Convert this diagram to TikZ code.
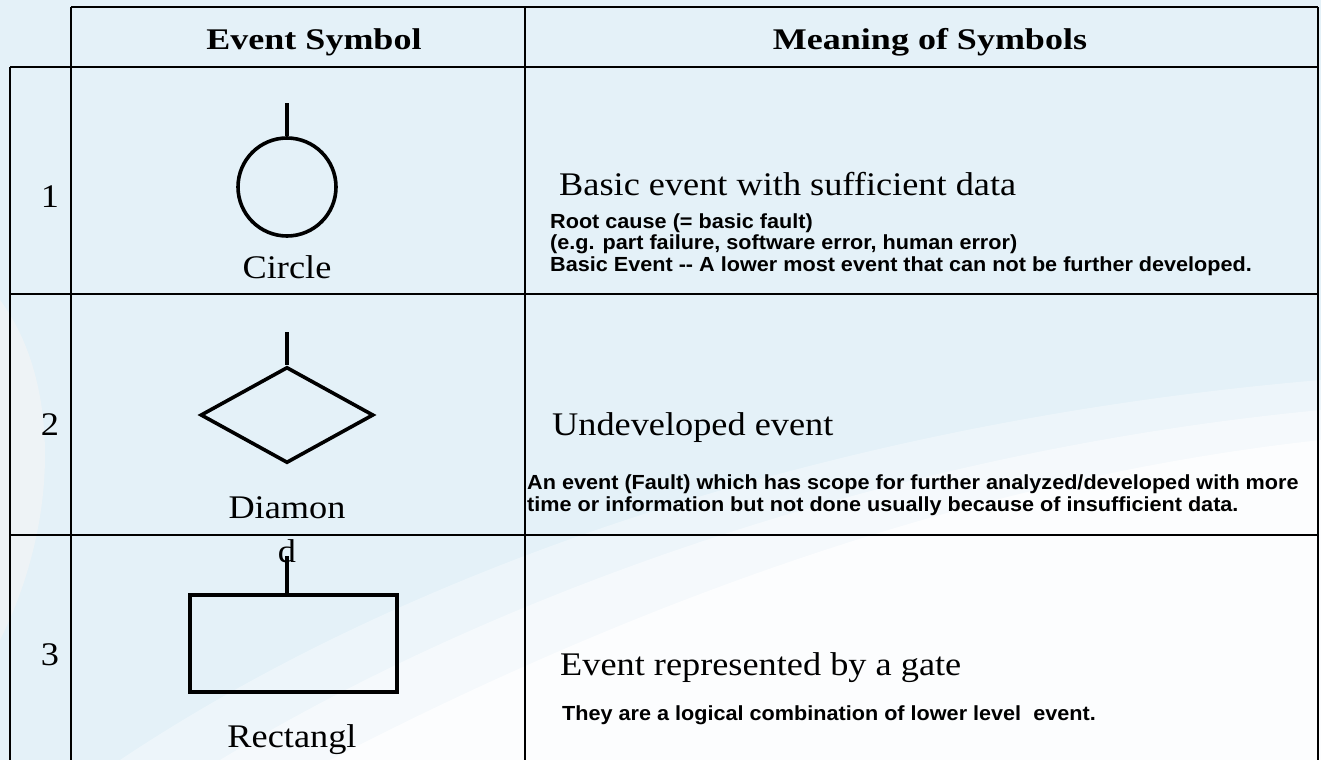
\documentclass[tikz,border=0pt]{standalone}
\usepackage{fontspec}
\setmainfont{Liberation Serif}[FakeStretch=1.1]
\newfontfamily\headfont{Liberation Serif}[FakeStretch=1.2]
\newfontfamily\arialb{Liberation Sans}[FakeStretch=1.06]
\usetikzlibrary{shapes.geometric}
\definecolor{bgblue}{RGB}{228,241,248}
\tikzset{
  grid/.style={line width=2.6pt, black},
  sym/.style={draw=black, line width=3.6pt, inner sep=0pt},
  stem/.style={line width=3.6pt, black},
  head/.style={anchor=base, inner sep=0pt, font=\headfont\bfseries\fontsize{30}{32}\selectfont},
  lbl/.style={anchor=base, inner sep=0pt, font=\fontsize{33}{35}\selectfont},
  big/.style={anchor=base west, inner sep=0pt, font=\fontsize{33}{35}\selectfont},
  small/.style={anchor=base west, inner sep=0pt, font=\arialb\bfseries\fontsize{20.4}{21}\selectfont},
}
\begin{document}
\begin{tikzpicture}[x=1pt,y=-1pt]
\useasboundingbox (0,0) rectangle (1321,760);
\clip (0,0) rectangle (1321,760);
% background
\fill[bgblue] (0,0) rectangle (1321,760);
\fill[white, opacity=0.35] (120,760) .. controls (420,560) and (850,420) .. (1321,380) -- (1321,760) -- cycle;
\fill[white, opacity=0.45] (220,760) .. controls (500,590) and (900,450) .. (1321,410) -- (1321,760) -- cycle;
\fill[white, opacity=0.7] (330,760) .. controls (600,620) and (950,480) .. (1321,440) -- (1321,760) -- cycle;
\fill[gray!8, opacity=0.6] (0,300) .. controls (60,380) and (60,520) .. (0,640) -- cycle;

% table grid
\draw[grid] (71,7) -- (1318,7);
\draw[grid] (10,67) -- (1318,67);
\draw[grid] (10,294) -- (1318,294);
\draw[grid] (10,535) -- (1318,535);
\draw[grid] (10,67) -- (10,760);
\draw[grid] (71,7) -- (71,760);
\draw[grid] (525,7) -- (525,760);
\draw[grid] (1318,7) -- (1318,760);

% headers
\node[head] (h1) at (314,50) {Event Symbol};
\node[head] (h2) at (930,50) {Meaning of Symbols};

% numbers
\node[lbl] (n1) at (50,207) {1};
\node[lbl] (n2) at (50,435) {2};
\node[lbl] (n3) at (50,665) {3};

% symbols
\node[sym, circle, minimum size=98pt] (circ) at (287,187) {};
\coordinate (c1top) at (287,103);
\draw[stem] (c1top) -- (circ.north);
\node[lbl] (circlbl) at (287,278) {Circle};

\node[sym, diamond, minimum width=173pt, minimum height=96pt] (diam) at (287,415) {};
\coordinate (c2top) at (287,332);
\draw[stem] (c2top) -- (diam.north);
\node[lbl] (diamlbl) at (287,518) {Diamon};
\node[lbl] (diamlbl2) at (287,562) {d};

\node[sym, rectangle, minimum width=207pt, minimum height=97pt] (rect) at (293.5,643.5) {};
\coordinate (c3top) at (287,556);
\draw[stem] (c3top) -- (rect.north -| c3top);
\node[lbl] (rectlbl) at (292,747) {Rectangl};

% meanings
\node[big] (m1) at (559,195) {Basic event with sufficient data};
\node[small] (m1a) at (550,228) {Root cause (= basic fault)};
\node[small] (m1b) at (550,249.5) {(e.g. part failure, software error, human error)};
\node[small] (m1c) at (550,271) {Basic Event -- A lower most event that can not be further developed.};

\node[big] (m2) at (552,435) {Undeveloped event};
\node[small] (m2a) at (527,489) {An event (Fault) which has scope for further analyzed/developed with more};
\node[small] (m2b) at (527,511) {time or information but not done usually because of insufficient data.};

\node[big] (m3) at (560,675) {Event represented by a gate};
\node[small] (m3a) at (562,720) {They are a logical combination of lower level\ \ event.};
\end{tikzpicture}
\end{document}
